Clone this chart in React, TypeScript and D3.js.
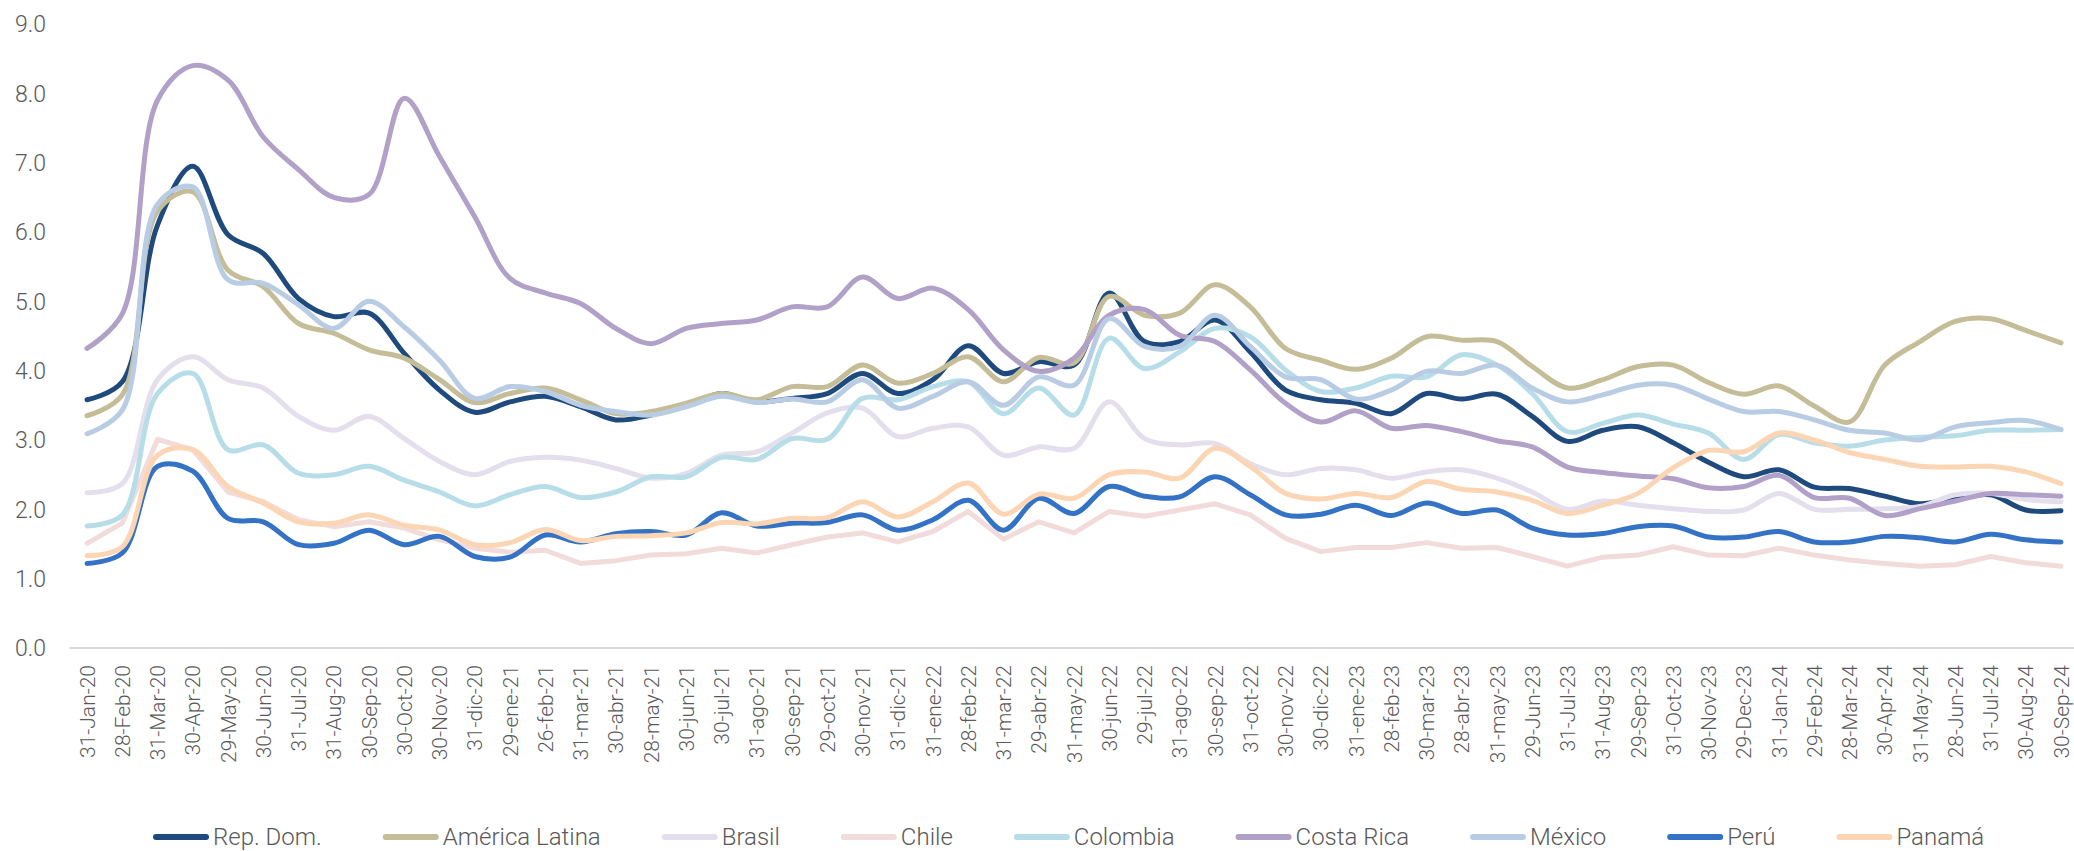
import React, { useMemo } from "react";
import * as d3 from "d3";

const categories = [
  "31-Jan-20","28-Feb-20","31-Mar-20","30-Apr-20","29-May-20","30-Jun-20","31-Jul-20","31-Aug-20","30-Sep-20","30-Oct-20","30-Nov-20","31-dic-20",
  "29-ene-21","26-feb-21","31-mar-21","30-abr-21","28-may-21","30-jun-21","30-jul-21","31-ago-21","30-sep-21","29-oct-21","30-nov-21","31-dic-21",
  "31-ene-22","28-feb-22","31-mar-22","29-abr-22","31-may-22","30-jun-22","29-jul-22","31-ago-22","30-sep-22","31-oct-22","30-nov-22","30-dic-22",
  "31-ene-23","28-feb-23","30-mar-23","28-abr-23","31-may-23","29-Jun-23","31-Jul-23","31-Aug-23","29-Sep-23","31-Oct-23","30-Nov-23","29-Dec-23",
  "31-Jan-24","29-Feb-24","28-Mar-24","30-Apr-24","31-May-24","28-Jun-24","31-Jul-24","30-Aug-24","30-Sep-24",
];

const yTicks = [0, 1, 2, 3, 4, 5, 6, 7, 8, 9];

const repDom = [3.58,3.84,6.1,6.95,5.96,5.69,5.04,4.78,4.83,4.25,3.72,3.4,3.55,3.63,3.48,3.29,3.36,3.5,3.67,3.55,3.6,3.67,3.96,3.67,3.87,4.36,3.96,4.13,4.08,5.12,4.42,4.42,4.73,4.27,3.72,3.58,3.53,3.38,3.67,3.59,3.66,3.34,2.98,3.14,3.19,2.96,2.68,2.47,2.57,2.32,2.3,2.19,2.08,2.16,2.21,1.99,1.98];
const americaLatina = [3.35,3.65,6.3,6.58,5.45,5.21,4.68,4.54,4.3,4.18,3.87,3.54,3.67,3.75,3.58,3.38,3.41,3.53,3.67,3.58,3.77,3.77,4.08,3.82,3.96,4.2,3.84,4.19,4.11,5.07,4.8,4.83,5.24,4.92,4.32,4.15,4.02,4.18,4.49,4.44,4.42,4.06,3.75,3.87,4.06,4.08,3.83,3.66,3.78,3.49,3.26,4.08,4.42,4.71,4.75,4.58,4.4];
const brasil = [2.24,2.37,3.87,4.2,3.87,3.75,3.34,3.14,3.34,3.02,2.69,2.5,2.69,2.75,2.71,2.59,2.45,2.52,2.78,2.83,3.1,3.39,3.46,3.05,3.17,3.19,2.78,2.9,2.88,3.55,3.02,2.93,2.95,2.66,2.5,2.59,2.57,2.45,2.54,2.57,2.45,2.25,2.0,2.12,2.06,2.01,1.97,1.99,2.23,2.0,2.0,2.01,2.04,2.21,2.23,2.14,2.11];
const chile = [1.51,1.8,3.01,2.86,2.25,2.11,1.85,1.75,1.82,1.73,1.56,1.44,1.38,1.41,1.22,1.26,1.34,1.36,1.44,1.37,1.49,1.6,1.66,1.53,1.68,1.97,1.57,1.82,1.66,1.97,1.9,1.99,2.08,1.92,1.58,1.39,1.45,1.45,1.52,1.44,1.45,1.32,1.18,1.31,1.34,1.46,1.34,1.33,1.44,1.34,1.27,1.22,1.18,1.2,1.32,1.23,1.18];
const colombia = [1.76,1.92,3.67,3.96,2.86,2.93,2.52,2.5,2.62,2.42,2.25,2.05,2.21,2.33,2.17,2.25,2.47,2.47,2.75,2.72,3.02,3.01,3.6,3.58,3.77,3.84,3.38,3.75,3.36,4.47,4.03,4.27,4.61,4.49,4.01,3.7,3.75,3.92,3.91,4.23,4.08,3.67,3.12,3.24,3.36,3.23,3.1,2.72,3.08,2.96,2.91,3.0,3.04,3.06,3.14,3.14,3.15];
const costaRica = [4.32,4.82,7.9,8.4,8.19,7.37,6.9,6.5,6.54,7.93,7.09,6.22,5.33,5.12,4.97,4.61,4.39,4.61,4.68,4.73,4.92,4.92,5.35,5.04,5.19,4.88,4.3,3.99,4.18,4.8,4.88,4.51,4.42,4.01,3.53,3.26,3.42,3.17,3.21,3.12,2.99,2.9,2.61,2.53,2.48,2.44,2.31,2.33,2.49,2.17,2.16,1.91,2.01,2.12,2.23,2.21,2.19];
const mexico = [3.09,3.43,6.4,6.65,5.31,5.26,4.95,4.61,5.0,4.63,4.15,3.6,3.77,3.7,3.5,3.41,3.36,3.48,3.63,3.54,3.59,3.55,3.87,3.46,3.63,3.84,3.5,3.91,3.79,4.75,4.35,4.35,4.8,4.35,3.91,3.87,3.59,3.72,3.99,3.96,4.08,3.75,3.55,3.65,3.79,3.79,3.59,3.41,3.41,3.29,3.14,3.1,3.0,3.19,3.25,3.28,3.15];
const peru = [1.22,1.37,2.62,2.55,1.87,1.82,1.49,1.51,1.7,1.49,1.61,1.32,1.31,1.63,1.53,1.65,1.68,1.63,1.95,1.76,1.8,1.81,1.92,1.7,1.85,2.13,1.7,2.16,1.94,2.33,2.19,2.18,2.47,2.21,1.92,1.93,2.06,1.91,2.09,1.94,1.99,1.73,1.63,1.65,1.75,1.76,1.6,1.6,1.68,1.53,1.53,1.61,1.59,1.53,1.64,1.56,1.53];
const panama = [1.33,1.46,2.78,2.86,2.33,2.09,1.82,1.8,1.92,1.77,1.7,1.49,1.52,1.71,1.55,1.61,1.62,1.66,1.81,1.79,1.87,1.88,2.11,1.89,2.11,2.38,1.93,2.22,2.16,2.5,2.54,2.45,2.88,2.62,2.23,2.15,2.23,2.17,2.4,2.29,2.25,2.13,1.94,2.06,2.23,2.6,2.85,2.83,3.1,3.0,2.82,2.72,2.62,2.61,2.62,2.54,2.37];

const seriesNames = ["Rep. Dom.", "América Latina", "Brasil", "Chile", "Colombia", "Costa Rica", "México", "Perú", "Panamá"];
const seriesValues = [repDom, americaLatina, brasil, chile, colombia, costaRica, mexico, peru, panama];
const seriesColors = ["#1F4A7E", "#C4BD97", "#E4DFEC", "#F2DCDB", "#B7DEE8", "#B1A0C7", "#B8CCE4", "#3372C5", "#FCD5B4"];
const seriesSmooth = [true, true, true, false, true, true, true, true, true];

const W = 2074;
const H = 851;
const plotLeft = 69.4;
const plotRight = 2078.6;
const plotTop = 24;
const plotBottom = 648;
const LEGEND_FONT = "300 24px Roboto";

function measure(text: string, font: string): number {
  if (typeof document === "undefined") return text.length * 12;
  const c = document.createElement("canvas");
  const ctx = c.getContext("2d");
  if (!ctx) return text.length * 12;
  ctx.font = font;
  return ctx.measureText(text).width;
}

export default function App() {
  const x = d3.scalePoint<string>().domain(categories).range([plotLeft, plotRight]).padding(0.5);
  const y = d3.scaleLinear().domain([0, 9]).range([plotBottom, plotTop]);

  const lines = seriesValues.map((vals, si) => {
    const gen = d3
      .line<number>()
      .x((_, i) => x(categories[i]) as number)
      .y((v) => y(v))
      .curve(seriesSmooth[si] ? d3.curveCatmullRom.alpha(0.5) : d3.curveLinear);
    return gen(vals) || "";
  });

  const legend = useMemo(() => {
    const sw = 56;
    const gapText = 4;
    const gapItem = 61;
    const widths = seriesNames.map((n) => measure(n, LEGEND_FONT));
    let cx = 153;
    return seriesNames.map((n, i) => {
      const item = { x: cx, name: n, color: seriesColors[i] };
      cx += sw + gapText + widths[i] + gapItem;
      return item;
    });
  }, []);

  const legendY = 837;

  return (
    <svg
      width={W}
      height={H}
      viewBox={`0 0 ${W} ${H}`}
      style={{ position: "absolute", left: 0, top: 0, background: "#fff" }}
    >
      <rect x={0} y={0} width={W} height={H} fill="#fff" />
      {yTicks.map((t) => (
        <text
          key={t}
          x={46}
          y={y(t)}
          dy="0.36em"
          textAnchor="end"
          fontFamily="Roboto"
          fontWeight={300}
          fontSize={23}
          fill="#595959"
        >
          {t.toFixed(1)}
        </text>
      ))}
      <line x1={plotLeft} x2={W} y1={plotBottom} y2={plotBottom} stroke="#D9D9D9" strokeWidth={2} />
      {categories.map((c) => (
        <text
          key={c}
          transform={`translate(${x(c)},${plotBottom + 17}) rotate(-90)`}
          dy="0.36em"
          textAnchor="end"
          fontFamily="Roboto"
          fontWeight={300}
          fontSize={21}
          fill="#595959"
        >
          {c}
        </text>
      ))}
      {lines.map((d, i) => (
        <path
          key={seriesNames[i]}
          d={d}
          fill="none"
          stroke={seriesColors[i]}
          strokeWidth={5}
          strokeLinejoin="round"
          strokeLinecap="round"
        />
      ))}
      {legend.map((it) => (
        <g key={it.name}>
          <line
            x1={it.x + 3}
            x2={it.x + 53}
            y1={legendY}
            y2={legendY}
            stroke={it.color}
            strokeWidth={6}
            strokeLinecap="round"
          />
          <text
            x={it.x + 60}
            y={legendY}
            dy="0.34em"
            fontFamily="Roboto"
            fontWeight={300}
            fontSize={24}
            fill="#595959"
          >
            {it.name}
          </text>
        </g>
      ))}
    </svg>
  );
}
